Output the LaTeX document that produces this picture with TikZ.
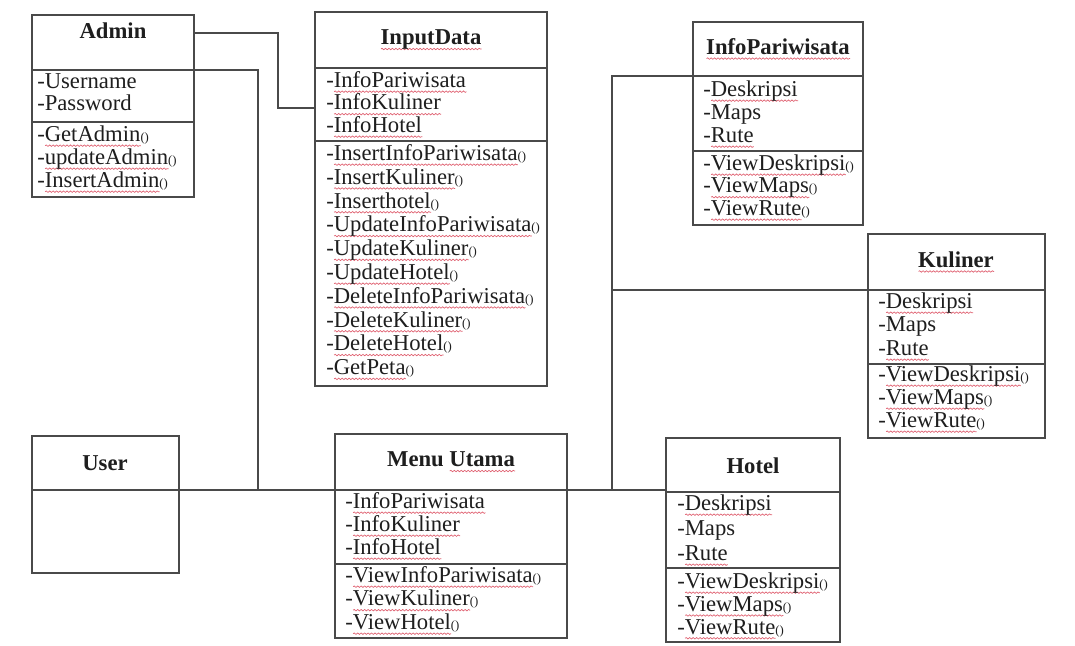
\documentclass[tikz,border=0pt]{standalone}
\usepackage{fontspec}
\setmainfont{Liberation Serif}
\usetikzlibrary{fit,decorations.pathmorphing}

\definecolor{ink}{HTML}{1E1E1E}
\definecolor{rule}{HTML}{4A4A4A}
\definecolor{spell}{HTML}{E06070}

% wavy spell-check underline under a word
\newsavebox\wvbox
\newcommand\wv[1]{\sbox\wvbox{#1}%
  \rlap{\tikz[baseline=0pt, x=1pt, y=1pt]\draw[spell, line width=0.5pt,
    decorate, decoration={snake, amplitude=0.55pt, segment length=2.6pt}]
    (0,-3.2) -- (\the\wd\wvbox,-3.2);}%
  \usebox\wvbox}
% small parentheses after operation names
\newcommand\pr{{\fontsize{9.5}{9.5}\selectfont()}}

\tikzset{
  umlbox/.style={draw=rule, line width=1.3pt, inner sep=0pt},
  sep/.style={draw=rule, line width=1.3pt},
  link/.style={draw=rule, line width=1.1pt},
  mem/.style={anchor=west, inner sep=0pt, text height=0.66em, text depth=0pt,
    text=ink, font=\fontsize{17}{18}\selectfont},
  ttl/.style={inner sep=0pt, text=ink, font=\fontsize{17}{18}\selectfont\bfseries},
}

% #1 name prefix, #2 x of text, #3 centre of first line, #4 line step, #5 lines
\newcommand\members[5]{%
  \foreach \t [count=\i from 0] in {#5}
    \node[mem] (#1-\i) at (#2, {#3+\i*#4}) {\t};}

\begin{document}
\begin{tikzpicture}[x=0.75pt, y=-0.75pt]
\useasboundingbox[fill=white] (0,0) rectangle (1075,646);

% ---------- Admin ----------
\node[umlbox, fit={(32,15)(194,197)}] (admin) {};
\draw[sep] (admin.west |- 0,70) -- (admin.east |- 0,70);
\draw[sep] (admin.west |- 0,122) -- (admin.east |- 0,122);
\node[ttl] (admin-t) at (113,31) {Admin};
\members{adminA}{37}{84}{22.5}{-Username,-Password}
\members{adminM}{37}{137}{23}{-\wv{GetAdmin}\pr,-\wv{updateAdmin}\pr,-\wv{InsertAdmin}\pr}

% ---------- InputData ----------
\node[umlbox, fit={(315,12)(547,386)}] (input) {};
\draw[sep] (input.west |- 0,68) -- (input.east |- 0,68);
\draw[sep] (input.west |- 0,141) -- (input.east |- 0,141);
\node[ttl] (input-t) at (431,40) {\wv{InputData}};
\members{inputA}{326}{83}{22.5}{-\wv{InfoPariwisata},-\wv{InfoKuliner},-\wv{InfoHotel}}
\members{inputM}{326}{156}{23.8}{-\wv{InsertInfoPariwisata}\pr,-\wv{InsertKuliner}\pr,-\wv{Inserthotel}\pr,-\wv{UpdateInfoPariwisata}\pr,-\wv{UpdateKuliner}\pr,-\wv{UpdateHotel}\pr,-\wv{DeleteInfoPariwisata}\pr,-\wv{DeleteKuliner}\pr,-\wv{DeleteHotel}\pr,-\wv{GetPeta}\pr}

% ---------- InfoPariwisata ----------
\node[umlbox, fit={(693,22)(863,225)}] (info) {};
\draw[sep] (info.west |- 0,76) -- (info.east |- 0,76);
\draw[sep] (info.west |- 0,151) -- (info.east |- 0,151);
\node[ttl] (info-t) at (778,49) {\wv{InfoPariwisata}};
\members{infoA}{703}{92}{23}{-\wv{Deskripsi},-Maps,-\wv{Rute}}
\members{infoM}{703}{166}{22.5}{-\wv{ViewDeskripsi}\pr,-\wv{ViewMaps}\pr,-\wv{ViewRute}\pr}

% ---------- Kuliner ----------
\node[umlbox, fit={(868,234)(1045,438)}] (kuliner) {};
\draw[sep] (kuliner.west |- 0,290) -- (kuliner.east |- 0,290);
\draw[sep] (kuliner.west |- 0,364) -- (kuliner.east |- 0,364);
\node[ttl] (kuliner-t) at (956,262) {\wv{Kuliner}};
\members{kulinerA}{878}{304}{23.5}{-\wv{Deskripsi},-Maps,-\wv{Rute}}
\members{kulinerM}{878}{377}{23}{-\wv{ViewDeskripsi}\pr,-\wv{ViewMaps}\pr,-\wv{ViewRute}\pr}

% ---------- User ----------
\node[umlbox, fit={(32,436)(179,573)}] (user) {};
\draw[sep] (user.west |- 0,490) -- (user.east |- 0,490);
\node[ttl] (user-t) at (105,463) {User};

% ---------- Menu Utama ----------
\node[umlbox, fit={(335,434)(567,638)}] (menu) {};
\draw[sep] (menu.west |- 0,490) -- (menu.east |- 0,490);
\draw[sep] (menu.west |- 0,564) -- (menu.east |- 0,564);
\node[ttl] (menu-t) at (451,462) {Menu \wv{Utama}};
\members{menuA}{345}{504}{23}{-\wv{InfoPariwisata},-\wv{InfoKuliner},-\wv{InfoHotel}}
\members{menuM}{345}{578}{23.5}{-\wv{ViewInfoPariwisata}\pr,-\wv{ViewKuliner}\pr,-\wv{ViewHotel}\pr}

% ---------- Hotel ----------
\node[umlbox, fit={(666,438)(840,642)}] (hotel) {};
\draw[sep] (hotel.west |- 0,492) -- (hotel.east |- 0,492);
\draw[sep] (hotel.west |- 0,568) -- (hotel.east |- 0,568);
\node[ttl] (hotel-t) at (753,466) {Hotel};
\members{hotelA}{677}{506}{25}{-\wv{Deskripsi},-Maps,-\wv{Rute}}
\members{hotelM}{677}{584}{22.8}{-\wv{ViewDeskripsi}\pr,-\wv{ViewMaps}\pr,-\wv{ViewRute}\pr}

% ---------- junctions of the connectors ----------
\coordinate (jIn) at (278,108);
\coordinate (jAd) at (258,490);
\coordinate (jBus) at (612,490);
\coordinate (jKu) at (612,290);

% ---------- connectors ----------
\draw[link] (admin.east |- 0,33) -| (jIn) -- (input.west |- jIn);
\draw[link] (admin.east |- 0,70) -| (jAd);
\draw[link] (user.east |- 0,490) -- (menu.west |- 0,490);
\draw[link] (menu.east |- 0,490) -- (hotel.west |- 0,490);
\draw[link] (jBus) |- (info.west |- 0,76);
\draw[link] (jKu) -- (kuliner.west |- jKu);
\end{tikzpicture}
\end{document}
